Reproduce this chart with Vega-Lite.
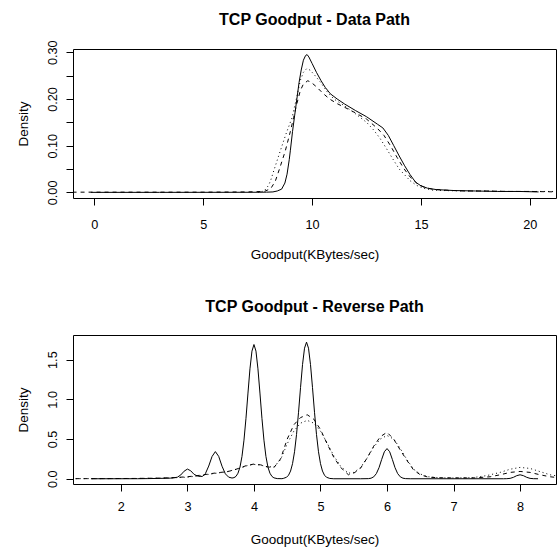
{
  "$schema": "https://vega.github.io/schema/vega-lite/v6.json",
  "padding": {"left": 16, "top": 11, "right": 0, "bottom": 0},
  "background": "white",
  "spacing": 36,
  "config": {
    "font": "Liberation Sans",
    "view": {"stroke": "#000", "strokeWidth": 1},
    "title": {"fontSize": 16, "fontWeight": "bold", "color": "#000", "frame": "group", "offset": 12, "font": "Liberation Sans"},
    "axis": {
      "grid": false, "domain": false, "tickColor": "#000", "tickSize": 7, "tickWidth": 1,
      "labelColor": "#000", "labelFontSize": 12.7, "labelFont": "Liberation Sans",
      "titleColor": "#000", "titleFontSize": 13.5, "titleFontWeight": "normal", "titleFont": "Liberation Sans",
      "labelOverlap": false, "labelFlush": false
    },
    "axisX": {"labelPadding": 13, "titlePadding": 17},
    "axisY": {"labelAngle": -90, "labelAlign": "center", "labelBaseline": "bottom", "labelPadding": 7, "titlePadding": 15.5}
  },
  "datasets": {
    "top": [
      {"s":"a","x":-0.16,"y":0.0001},{"s":"a","x":3,"y":0.0001},{"s":"a","x":6,"y":0.0002},{"s":"a","x":7.5,"y":0.0003},{"s":"a","x":7.9,"y":0.0005},{"s":"a","x":8.2,"y":0.001},{"s":"a","x":8.4,"y":0.003},{"s":"a","x":8.6,"y":0.007},{"s":"a","x":8.75,"y":0.02},{"s":"a","x":8.85,"y":0.039},{"s":"a","x":8.95,"y":0.07},{"s":"a","x":9.0,"y":0.089},{"s":"a","x":9.1,"y":0.13},{"s":"a","x":9.2,"y":0.165},{"s":"a","x":9.3,"y":0.2},{"s":"a","x":9.4,"y":0.235},{"s":"a","x":9.5,"y":0.262},{"s":"a","x":9.6,"y":0.283},{"s":"a","x":9.7,"y":0.293},{"s":"a","x":9.77,"y":0.295},{"s":"a","x":9.85,"y":0.29},{"s":"a","x":10.0,"y":0.276},{"s":"a","x":10.2,"y":0.257},{"s":"a","x":10.4,"y":0.24},{"s":"a","x":10.6,"y":0.225},{"s":"a","x":10.84,"y":0.211},{"s":"a","x":11.15,"y":0.2},{"s":"a","x":11.5,"y":0.189},{"s":"a","x":12.0,"y":0.175},{"s":"a","x":12.5,"y":0.162},{"s":"a","x":13.0,"y":0.146},{"s":"a","x":13.25,"y":0.138},{"s":"a","x":13.5,"y":0.122},{"s":"a","x":13.75,"y":0.1},{"s":"a","x":14.0,"y":0.078},{"s":"a","x":14.25,"y":0.057},{"s":"a","x":14.5,"y":0.038},{"s":"a","x":14.75,"y":0.022},{"s":"a","x":15.0,"y":0.014},{"s":"a","x":15.3,"y":0.009},{"s":"a","x":15.7,"y":0.006},{"s":"a","x":16.5,"y":0.004},{"s":"a","x":17.5,"y":0.003},{"s":"a","x":18.5,"y":0.002},{"s":"a","x":19.5,"y":0.002},{"s":"a","x":20.4,"y":0.001},
      {"s":"b","x":-1.0,"y":0.0005},{"s":"b","x":2,"y":0.0005},{"s":"b","x":5,"y":0.0005},{"s":"b","x":7,"y":0.001},{"s":"b","x":7.8,"y":0.002},{"s":"b","x":8.1,"y":0.008},{"s":"b","x":8.31,"y":0.024},{"s":"b","x":8.5,"y":0.05},{"s":"b","x":8.77,"y":0.089},{"s":"b","x":9.0,"y":0.13},{"s":"b","x":9.15,"y":0.16},{"s":"b","x":9.3,"y":0.19},{"s":"b","x":9.46,"y":0.218},{"s":"b","x":9.6,"y":0.232},{"s":"b","x":9.8,"y":0.239},{"s":"b","x":9.95,"y":0.236},{"s":"b","x":10.2,"y":0.226},{"s":"b","x":10.5,"y":0.212},{"s":"b","x":10.8,"y":0.2},{"s":"b","x":11.15,"y":0.19},{"s":"b","x":11.5,"y":0.182},{"s":"b","x":12.0,"y":0.17},{"s":"b","x":12.5,"y":0.157},{"s":"b","x":13.0,"y":0.137},{"s":"b","x":13.3,"y":0.122},{"s":"b","x":13.6,"y":0.1},{"s":"b","x":13.9,"y":0.075},{"s":"b","x":14.2,"y":0.052},{"s":"b","x":14.5,"y":0.033},{"s":"b","x":14.8,"y":0.02},{"s":"b","x":15.1,"y":0.012},{"s":"b","x":15.5,"y":0.007},{"s":"b","x":16.0,"y":0.005},{"s":"b","x":17,"y":0.003},{"s":"b","x":18,"y":0.003},{"s":"b","x":19,"y":0.002},{"s":"b","x":20,"y":0.002},{"s":"b","x":21.3,"y":0.001},
      {"s":"c","x":7.5,"y":0.0},{"s":"c","x":7.8,"y":0.003},{"s":"c","x":8.0,"y":0.015},{"s":"c","x":8.1,"y":0.026},{"s":"c","x":8.3,"y":0.055},{"s":"c","x":8.54,"y":0.089},{"s":"c","x":8.8,"y":0.125},{"s":"c","x":9.08,"y":0.16},{"s":"c","x":9.3,"y":0.205},{"s":"c","x":9.46,"y":0.24},{"s":"c","x":9.6,"y":0.257},{"s":"c","x":9.75,"y":0.265},{"s":"c","x":9.9,"y":0.262},{"s":"c","x":10.1,"y":0.252},{"s":"c","x":10.4,"y":0.235},{"s":"c","x":10.7,"y":0.215},{"s":"c","x":11.0,"y":0.2},{"s":"c","x":11.5,"y":0.185},{"s":"c","x":12.0,"y":0.168},{"s":"c","x":12.5,"y":0.15},{"s":"c","x":12.8,"y":0.135},{"s":"c","x":13.1,"y":0.117},{"s":"c","x":13.4,"y":0.095},{"s":"c","x":13.7,"y":0.072},{"s":"c","x":14.0,"y":0.05},{"s":"c","x":14.22,"y":0.039},{"s":"c","x":14.5,"y":0.025},{"s":"c","x":14.8,"y":0.015},{"s":"c","x":15.1,"y":0.009},{"s":"c","x":15.5,"y":0.005},{"s":"c","x":16,"y":0.004},{"s":"c","x":17,"y":0.003},{"s":"c","x":18,"y":0.003},{"s":"c","x":19,"y":0.002},{"s":"c","x":20,"y":0.002},{"s":"c","x":21.3,"y":0.002}
    ],
    "bot": [
      {"s":"a","x":1.55,"y":0.0001},{"s":"a","x":2.25,"y":0.0005},{"s":"a","x":2.4,"y":0.002},{"s":"a","x":2.6,"y":0.005},{"s":"a","x":2.75,"y":0.008},{"s":"a","x":2.8,"y":0.012},{"s":"a","x":2.85,"y":0.02},{"s":"a","x":2.9,"y":0.048},{"s":"a","x":2.95,"y":0.095},{"s":"a","x":3.0,"y":0.122},{"s":"a","x":3.05,"y":0.1},{"s":"a","x":3.1,"y":0.055},{"s":"a","x":3.15,"y":0.035},{"s":"a","x":3.2,"y":0.028},{"s":"a","x":3.23,"y":0.032},{"s":"a","x":3.27,"y":0.065},{"s":"a","x":3.32,"y":0.16},{"s":"a","x":3.37,"y":0.28},{"s":"a","x":3.42,"y":0.342},{"s":"a","x":3.47,"y":0.282},{"s":"a","x":3.52,"y":0.158},{"s":"a","x":3.57,"y":0.062},{"s":"a","x":3.62,"y":0.02},{"s":"a","x":3.67,"y":0.009},{"s":"a","x":3.7,"y":0.014},{"s":"a","x":3.73,"y":0.03},{"s":"a","x":3.76,"y":0.07},{"s":"a","x":3.79,"y":0.147},{"s":"a","x":3.82,"y":0.281},{"s":"a","x":3.85,"y":0.486},{"s":"a","x":3.88,"y":0.761},{"s":"a","x":3.91,"y":1.079},{"s":"a","x":3.94,"y":1.384},{"s":"a","x":3.97,"y":1.607},{"s":"a","x":4.0,"y":1.69},{"s":"a","x":4.03,"y":1.607},{"s":"a","x":4.06,"y":1.384},{"s":"a","x":4.09,"y":1.079},{"s":"a","x":4.12,"y":0.761},{"s":"a","x":4.15,"y":0.486},{"s":"a","x":4.18,"y":0.281},{"s":"a","x":4.21,"y":0.147},{"s":"a","x":4.24,"y":0.07},{"s":"a","x":4.27,"y":0.03},{"s":"a","x":4.3,"y":0.0115},{"s":"a","x":4.35,"y":0.002},{"s":"a","x":4.42,"y":0.001},{"s":"a","x":4.44,"y":0.004},{"s":"a","x":4.49,"y":0.019},{"s":"a","x":4.52,"y":0.045},{"s":"a","x":4.55,"y":0.097},{"s":"a","x":4.58,"y":0.19},{"s":"a","x":4.61,"y":0.34},{"s":"a","x":4.64,"y":0.558},{"s":"a","x":4.67,"y":0.837},{"s":"a","x":4.7,"y":1.147},{"s":"a","x":4.73,"y":1.437},{"s":"a","x":4.76,"y":1.644},{"s":"a","x":4.79,"y":1.72},{"s":"a","x":4.82,"y":1.644},{"s":"a","x":4.85,"y":1.437},{"s":"a","x":4.88,"y":1.147},{"s":"a","x":4.91,"y":0.837},{"s":"a","x":4.94,"y":0.558},{"s":"a","x":4.97,"y":0.34},{"s":"a","x":5.0,"y":0.19},{"s":"a","x":5.03,"y":0.097},{"s":"a","x":5.06,"y":0.045},{"s":"a","x":5.09,"y":0.019},{"s":"a","x":5.14,"y":0.004},{"s":"a","x":5.2,"y":0.0},{"s":"a","x":5.6,"y":0.0},{"s":"a","x":5.72,"y":0.0015},{"s":"a","x":5.76,"y":0.007},{"s":"a","x":5.8,"y":0.024},{"s":"a","x":5.84,"y":0.065},{"s":"a","x":5.88,"y":0.14},{"s":"a","x":5.92,"y":0.244},{"s":"a","x":5.96,"y":0.34},{"s":"a","x":6.0,"y":0.38},{"s":"a","x":6.04,"y":0.34},{"s":"a","x":6.08,"y":0.244},{"s":"a","x":6.12,"y":0.14},{"s":"a","x":6.16,"y":0.065},{"s":"a","x":6.2,"y":0.024},{"s":"a","x":6.24,"y":0.007},{"s":"a","x":6.28,"y":0.0015},{"s":"a","x":6.35,"y":0.0},{"s":"a","x":7.75,"y":0.0},{"s":"a","x":7.8,"y":0.001},{"s":"a","x":7.85,"y":0.005},{"s":"a","x":7.9,"y":0.018},{"s":"a","x":7.95,"y":0.039},{"s":"a","x":8.0,"y":0.05},{"s":"a","x":8.05,"y":0.039},{"s":"a","x":8.1,"y":0.018},{"s":"a","x":8.15,"y":0.005},{"s":"a","x":8.2,"y":0.001},{"s":"a","x":8.27,"y":0.0},
      {"s":"b","x":1.2,"y":0.001},{"s":"b","x":1.8,"y":0.002},{"s":"b","x":2.2,"y":0.004},{"s":"b","x":2.6,"y":0.008},{"s":"b","x":2.8,"y":0.015},{"s":"b","x":3.0,"y":0.025},{"s":"b","x":3.2,"y":0.045},{"s":"b","x":3.4,"y":0.07},{"s":"b","x":3.5,"y":0.08},{"s":"b","x":3.6,"y":0.09},{"s":"b","x":3.7,"y":0.11},{"s":"b","x":3.8,"y":0.14},{"s":"b","x":3.9,"y":0.17},{"s":"b","x":4.0,"y":0.185},{"s":"b","x":4.1,"y":0.175},{"s":"b","x":4.2,"y":0.15},{"s":"b","x":4.3,"y":0.14},{"s":"b","x":4.4,"y":0.25},{"s":"b","x":4.5,"y":0.5},{"s":"b","x":4.6,"y":0.68},{"s":"b","x":4.7,"y":0.77},{"s":"b","x":4.8,"y":0.806},{"s":"b","x":4.9,"y":0.75},{"s":"b","x":5.0,"y":0.62},{"s":"b","x":5.1,"y":0.44},{"s":"b","x":5.2,"y":0.27},{"s":"b","x":5.3,"y":0.145},{"s":"b","x":5.42,"y":0.05},{"s":"b","x":5.5,"y":0.07},{"s":"b","x":5.6,"y":0.13},{"s":"b","x":5.7,"y":0.26},{"s":"b","x":5.8,"y":0.41},{"s":"b","x":5.9,"y":0.53},{"s":"b","x":6.0,"y":0.585},{"s":"b","x":6.1,"y":0.5},{"s":"b","x":6.2,"y":0.36},{"s":"b","x":6.3,"y":0.23},{"s":"b","x":6.4,"y":0.11},{"s":"b","x":6.5,"y":0.05},{"s":"b","x":6.62,"y":0.02},{"s":"b","x":6.8,"y":0.012},{"s":"b","x":7.0,"y":0.01},{"s":"b","x":7.3,"y":0.01},{"s":"b","x":7.55,"y":0.025},{"s":"b","x":7.7,"y":0.05},{"s":"b","x":7.85,"y":0.08},{"s":"b","x":8.0,"y":0.092},{"s":"b","x":8.15,"y":0.08},{"s":"b","x":8.3,"y":0.05},{"s":"b","x":8.45,"y":0.025},{"s":"b","x":8.6,"y":0.012},
      {"s":"c","x":1.2,"y":0.001},{"s":"c","x":2.2,"y":0.003},{"s":"c","x":2.6,"y":0.007},{"s":"c","x":2.8,"y":0.012},{"s":"c","x":3.0,"y":0.02},{"s":"c","x":3.2,"y":0.04},{"s":"c","x":3.4,"y":0.065},{"s":"c","x":3.6,"y":0.09},{"s":"c","x":3.8,"y":0.135},{"s":"c","x":3.9,"y":0.165},{"s":"c","x":4.0,"y":0.18},{"s":"c","x":4.1,"y":0.172},{"s":"c","x":4.2,"y":0.15},{"s":"c","x":4.3,"y":0.15},{"s":"c","x":4.4,"y":0.24},{"s":"c","x":4.5,"y":0.44},{"s":"c","x":4.6,"y":0.6},{"s":"c","x":4.7,"y":0.7},{"s":"c","x":4.8,"y":0.735},{"s":"c","x":4.9,"y":0.7},{"s":"c","x":5.0,"y":0.6},{"s":"c","x":5.1,"y":0.45},{"s":"c","x":5.2,"y":0.29},{"s":"c","x":5.3,"y":0.16},{"s":"c","x":5.42,"y":0.07},{"s":"c","x":5.5,"y":0.08},{"s":"c","x":5.6,"y":0.14},{"s":"c","x":5.7,"y":0.26},{"s":"c","x":5.8,"y":0.4},{"s":"c","x":5.9,"y":0.5},{"s":"c","x":6.0,"y":0.545},{"s":"c","x":6.1,"y":0.5},{"s":"c","x":6.2,"y":0.38},{"s":"c","x":6.3,"y":0.24},{"s":"c","x":6.4,"y":0.12},{"s":"c","x":6.5,"y":0.06},{"s":"c","x":6.62,"y":0.025},{"s":"c","x":6.8,"y":0.012},{"s":"c","x":7.0,"y":0.01},{"s":"c","x":7.3,"y":0.015},{"s":"c","x":7.5,"y":0.04},{"s":"c","x":7.7,"y":0.08},{"s":"c","x":7.85,"y":0.12},{"s":"c","x":8.0,"y":0.143},{"s":"c","x":8.15,"y":0.13},{"s":"c","x":8.3,"y":0.09},{"s":"c","x":8.45,"y":0.05},{"s":"c","x":8.6,"y":0.03}
    ]
  },
  "vconcat": [
    {
      "title": {"text": "TCP Goodput - Data Path"},
      "width": 483,
      "height": 149,
      "encoding": {
        "x": {"field": "x", "type": "quantitative", "scale": {"domain": [-0.98, 21.2], "nice": false, "zero": false},
              "axis": {"title": "Goodput(KBytes/sec)", "values": [0, 5, 10, 15, 20]}},
        "y": {"field": "y", "type": "quantitative", "scale": {"domain": [-0.012, 0.307], "nice": false, "zero": false},
              "axis": {"title": "Density", "values": [0, 0.05, 0.1, 0.15, 0.2, 0.25, 0.3],
                       "labelExpr": "round(datum.value*20) % 2 == 0 ? format(datum.value, '.2f') : ''"}}
      },
      "layer": [
        {"data": {"name": "top"}, "transform": [{"filter": "datum.s == 'a'"}],
         "mark": {"type": "line", "clip": true, "color": "#000", "strokeWidth": 1}},
        {"data": {"values": [{}]}, "mark": {"type": "rule", "color": "#bebebe", "strokeWidth": 1},
         "encoding": {"x": null, "y": {"datum": 0}}},
        {"data": {"name": "top"}, "transform": [{"filter": "datum.s == 'b'"}],
         "mark": {"type": "line", "clip": true, "color": "#000", "strokeWidth": 1, "strokeDash": [4, 4]}},
        {"data": {"name": "top"}, "transform": [{"filter": "datum.s == 'c'"}],
         "mark": {"type": "line", "clip": true, "color": "#000", "strokeWidth": 1, "strokeDash": [1, 3]}}
      ]
    },
    {
      "title": {"text": "TCP Goodput - Reverse Path", "offset": 20},
      "width": 483,
      "height": 149,
      "encoding": {
        "x": {"field": "x", "type": "quantitative", "scale": {"domain": [1.28, 8.54], "nice": false, "zero": false},
              "axis": {"title": "Goodput(KBytes/sec)", "values": [2, 3, 4, 5, 6, 7, 8], "labelPadding": 9, "titlePadding": 20}},
        "y": {"field": "y", "type": "quantitative", "scale": {"domain": [-0.066, 1.81], "nice": false, "zero": false},
              "axis": {"title": "Density", "values": [0, 0.5, 1.0, 1.5], "format": ".1f"}}
      },
      "layer": [
        {"data": {"name": "bot"}, "transform": [{"filter": "datum.s == 'a'"}],
         "mark": {"type": "line", "clip": true, "color": "#000", "strokeWidth": 1}},
        {"data": {"values": [{}]}, "mark": {"type": "rule", "color": "#bebebe", "strokeWidth": 1},
         "encoding": {"x": null, "y": {"datum": 0}}},
        {"data": {"name": "bot"}, "transform": [{"filter": "datum.s == 'b'"}],
         "mark": {"type": "line", "clip": true, "color": "#000", "strokeWidth": 1, "strokeDash": [4, 4]}},
        {"data": {"name": "bot"}, "transform": [{"filter": "datum.s == 'c'"}],
         "mark": {"type": "line", "clip": true, "color": "#000", "strokeWidth": 1, "strokeDash": [1, 3]}}
      ]
    }
  ]
}
